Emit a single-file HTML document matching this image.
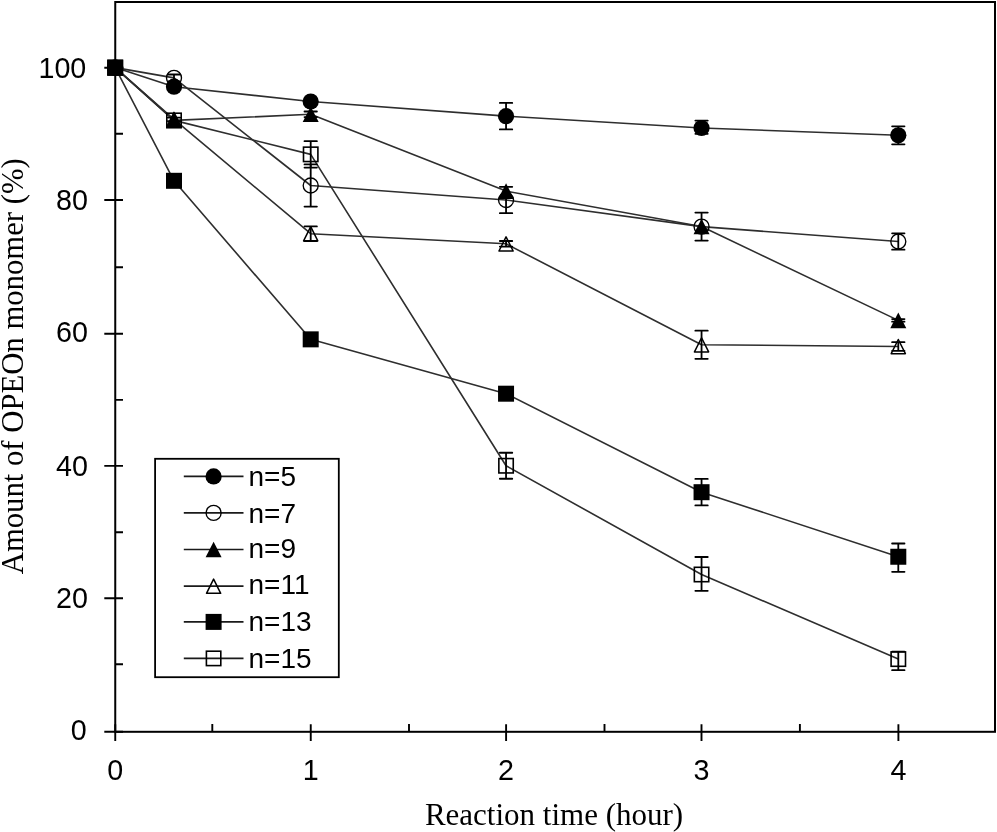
<!DOCTYPE html><html><head><meta charset="utf-8"><style>html,body{margin:0;padding:0;background:#fff;}svg{display:block;}#c{width:997px;height:832px;overflow:hidden;filter:grayscale(1);}</style></head><body>
<div id="c"><svg width="997" height="832" viewBox="0 0 997 832">
<rect width="997" height="832" fill="#fff"/>
<rect x="115.25" y="2.0" width="879.75" height="729.8" fill="none" stroke="#000" stroke-width="2.0"/>
<path d="M104.3,731.8H123 M104.3,598.2H123 M104.3,465.9H123 M104.3,333.7H123 M104.3,200.0H123 M104.3,67.8H123 M115.25,664.20H123 M115.25,532.20H123 M115.25,399.90H123 M115.25,267.30H123 M115.25,133.80H123 M115.25,724.2V741 M310.75,724.2V741 M506.1,724.2V741 M701.5,724.2V741 M898.4,724.2V741 M212.30,724.1V731.8 M409.00,724.1V731.8 M604.50,724.1V731.8 M799.90,724.1V731.8" stroke="#000" stroke-width="1.9" fill="none"/>
<polyline points="115.20,67.60 174.00,86.70 310.70,101.50 506.05,116.15 701.55,128.00 898.30,135.30" fill="none" stroke="#2e2e2e" stroke-width="1.6" stroke-linejoin="round"/>
<polyline points="115.20,67.60 174.00,77.90 310.70,185.50 506.05,200.00 701.55,226.60 898.30,241.50" fill="none" stroke="#2e2e2e" stroke-width="1.6" stroke-linejoin="round"/>
<polyline points="115.20,67.60 174.00,120.40 310.70,114.30 506.05,191.10 701.55,226.50 898.30,320.40" fill="none" stroke="#2e2e2e" stroke-width="1.6" stroke-linejoin="round"/>
<polyline points="115.20,67.60 174.00,119.30 310.70,233.70 506.05,243.80 701.55,344.75 898.30,346.50" fill="none" stroke="#2e2e2e" stroke-width="1.6" stroke-linejoin="round"/>
<polyline points="115.20,67.60 174.00,180.80 310.70,339.35 506.05,393.70 701.55,492.20 898.30,556.75" fill="none" stroke="#2e2e2e" stroke-width="1.6" stroke-linejoin="round"/>
<polyline points="115.20,67.60 174.00,120.40 310.70,154.35 506.05,465.75 701.55,574.50 898.30,659.10" fill="none" stroke="#2e2e2e" stroke-width="1.6" stroke-linejoin="round"/>
<path d="M506.05,102.90V129.40M499.85,102.90H512.25M499.85,129.40H512.25M701.55,120.60V133.80M695.35,120.60H707.75M695.35,133.80H707.75M898.30,126.30V144.30M892.10,126.30H904.50M892.10,144.30H904.50" stroke="#000" stroke-width="1.8" fill="none" stroke-linecap="round"/>
<circle cx="115.20" cy="67.60" r="8.10" fill="#000"/>
<circle cx="174.00" cy="86.70" r="8.10" fill="#000"/>
<circle cx="310.70" cy="101.50" r="8.10" fill="#000"/>
<circle cx="506.05" cy="116.15" r="8.10" fill="#000"/>
<circle cx="701.55" cy="128.00" r="8.10" fill="#000"/>
<circle cx="898.30" cy="135.30" r="8.10" fill="#000"/>
<path d="M174.00,74.50V81.30M167.80,74.50H180.20M167.80,81.30H180.20M310.70,164.40V206.60M304.50,164.40H316.90M304.50,206.60H316.90M506.05,186.80V213.20M499.85,186.80H512.25M499.85,213.20H512.25M701.55,212.60V240.60M695.35,212.60H707.75M695.35,240.60H707.75M898.30,233.30V249.70M892.10,233.30H904.50M892.10,249.70H904.50" stroke="#000" stroke-width="1.8" fill="none" stroke-linecap="round"/>
<circle cx="115.20" cy="67.60" r="7.50" fill="none" stroke="#000" stroke-width="1.35"/>
<circle cx="174.00" cy="77.90" r="7.50" fill="none" stroke="#000" stroke-width="1.35"/>
<circle cx="310.70" cy="185.50" r="7.50" fill="none" stroke="#000" stroke-width="1.35"/>
<circle cx="506.05" cy="200.00" r="7.50" fill="none" stroke="#000" stroke-width="1.35"/>
<circle cx="701.55" cy="226.60" r="7.50" fill="none" stroke="#000" stroke-width="1.35"/>
<circle cx="898.30" cy="241.50" r="7.50" fill="none" stroke="#000" stroke-width="1.35"/>
<path d="M310.70,111.50V117.10M304.50,111.50H316.90M304.50,117.10H316.90M898.30,319.10V321.70M892.10,319.10H904.50M892.10,321.70H904.50" stroke="#000" stroke-width="1.8" fill="none" stroke-linecap="round"/>
<path d="M115.20,59.80 L123.20,75.40 L107.20,75.40Z" fill="#000"/>
<path d="M174.00,112.60 L182.00,128.20 L166.00,128.20Z" fill="#000"/>
<path d="M310.70,106.50 L318.70,122.10 L302.70,122.10Z" fill="#000"/>
<path d="M506.05,183.30 L514.05,198.90 L498.05,198.90Z" fill="#000"/>
<path d="M701.55,218.70 L709.55,234.30 L693.55,234.30Z" fill="#000"/>
<path d="M898.30,312.60 L906.30,328.20 L890.30,328.20Z" fill="#000"/>
<path d="M174.00,117.55V121.05M167.80,117.55H180.20M167.80,121.05H180.20M310.70,226.40V241.00M304.50,226.40H316.90M304.50,241.00H316.90M506.05,241.00V246.60M499.85,241.00H512.25M499.85,246.60H512.25M701.55,330.70V358.80M695.35,330.70H707.75M695.35,358.80H707.75M898.30,342.20V350.80M892.10,342.20H904.50M892.10,350.80H904.50" stroke="#000" stroke-width="1.8" fill="none" stroke-linecap="round"/>
<path d="M115.20,60.60 L122.30,74.80 L108.10,74.80Z" fill="none" stroke="#000" stroke-width="1.5" stroke-linejoin="round"/>
<path d="M174.00,112.30 L181.10,126.50 L166.90,126.50Z" fill="none" stroke="#000" stroke-width="1.5" stroke-linejoin="round"/>
<path d="M310.70,226.70 L317.80,240.90 L303.60,240.90Z" fill="none" stroke="#000" stroke-width="1.5" stroke-linejoin="round"/>
<path d="M506.05,236.80 L513.15,251.00 L498.95,251.00Z" fill="none" stroke="#000" stroke-width="1.5" stroke-linejoin="round"/>
<path d="M701.55,337.75 L708.65,351.95 L694.45,351.95Z" fill="none" stroke="#000" stroke-width="1.5" stroke-linejoin="round"/>
<path d="M898.30,339.50 L905.40,353.70 L891.20,353.70Z" fill="none" stroke="#000" stroke-width="1.5" stroke-linejoin="round"/>
<path d="M701.55,478.95V505.45M695.35,478.95H707.75M695.35,505.45H707.75M898.30,543.50V571.80M892.10,543.50H904.50M892.10,571.80H904.50" stroke="#000" stroke-width="1.8" fill="none" stroke-linecap="round"/>
<rect x="107.20" y="59.60" width="16" height="16" fill="#000"/>
<rect x="166.00" y="172.80" width="16" height="16" fill="#000"/>
<rect x="302.70" y="331.35" width="16" height="16" fill="#000"/>
<rect x="498.05" y="385.70" width="16" height="16" fill="#000"/>
<rect x="693.55" y="484.20" width="16" height="16" fill="#000"/>
<rect x="890.30" y="548.75" width="16" height="16" fill="#000"/>
<path d="M310.70,141.15V167.55M304.50,141.15H316.90M304.50,167.55H316.90M506.05,452.75V478.75M499.85,452.75H512.25M499.85,478.75H512.25M701.55,557.00V590.80M695.35,557.00H707.75M695.35,590.80H707.75M898.30,651.60V670.20M892.10,651.60H904.50M892.10,670.20H904.50" stroke="#000" stroke-width="1.8" fill="none" stroke-linecap="round"/>
<rect x="108.00" y="60.40" width="14.4" height="14.4" fill="none" stroke="#000" stroke-width="1.6"/>
<rect x="166.80" y="113.20" width="14.4" height="14.4" fill="none" stroke="#000" stroke-width="1.6"/>
<rect x="303.50" y="147.15" width="14.4" height="14.4" fill="none" stroke="#000" stroke-width="1.6"/>
<rect x="498.85" y="458.55" width="14.4" height="14.4" fill="none" stroke="#000" stroke-width="1.6"/>
<rect x="694.35" y="567.30" width="14.4" height="14.4" fill="none" stroke="#000" stroke-width="1.6"/>
<rect x="891.10" y="651.90" width="14.4" height="14.4" fill="none" stroke="#000" stroke-width="1.6"/>
<text x="86.3" y="77.71" text-anchor="end" font-family="Liberation Sans, sans-serif" font-size="28.7">100</text>
<text x="88.0" y="209.86" text-anchor="end" font-family="Liberation Sans, sans-serif" font-size="28.7">80</text>
<text x="88.0" y="342.16" text-anchor="end" font-family="Liberation Sans, sans-serif" font-size="28.7">60</text>
<text x="88.0" y="475.86" text-anchor="end" font-family="Liberation Sans, sans-serif" font-size="28.7">40</text>
<text x="88.0" y="607.96" text-anchor="end" font-family="Liberation Sans, sans-serif" font-size="28.7">20</text>
<text x="86.6" y="740.16" text-anchor="end" font-family="Liberation Sans, sans-serif" font-size="28.7">0</text>
<text x="115.25" y="779.76" text-anchor="middle" font-family="Liberation Sans, sans-serif" font-size="28.7">0</text>
<text x="310.75" y="779.76" text-anchor="middle" font-family="Liberation Sans, sans-serif" font-size="28.7">1</text>
<text x="506.1" y="779.76" text-anchor="middle" font-family="Liberation Sans, sans-serif" font-size="28.7">2</text>
<text x="701.5" y="779.76" text-anchor="middle" font-family="Liberation Sans, sans-serif" font-size="28.7">3</text>
<text x="898.4" y="779.76" text-anchor="middle" font-family="Liberation Sans, sans-serif" font-size="28.7">4</text>
<text x="554" y="824.8" text-anchor="middle" font-family="Liberation Serif, serif" font-size="31">Reaction time (hour)</text>
<text transform="translate(23.2,366.3) rotate(-90)" x="0" y="0" text-anchor="middle" font-family="Liberation Serif, serif" font-size="30.7">Amount of OPEOn monomer (%)</text>
<rect x="155.1" y="458.8" width="183.7" height="218.4" fill="#fff" stroke="#000" stroke-width="1.8"/>
<path d="M183.8,476.4H243.5" stroke="#1a1a1a" stroke-width="1.7"/>
<circle cx="213.60" cy="476.40" r="8.10" fill="#000"/>
<text x="248.5" y="485.90" font-family="Liberation Sans, sans-serif" font-size="28">n=5</text>
<path d="M183.8,512.9H243.5" stroke="#1a1a1a" stroke-width="1.7"/>
<circle cx="213.60" cy="512.90" r="7.50" fill="none" stroke="#000" stroke-width="1.35"/>
<text x="248.5" y="522.80" font-family="Liberation Sans, sans-serif" font-size="28">n=7</text>
<path d="M183.8,549.5H243.5" stroke="#1a1a1a" stroke-width="1.7"/>
<path d="M213.60,541.70 L221.60,557.30 L205.60,557.30Z" fill="#000"/>
<text x="248.5" y="558.30" font-family="Liberation Sans, sans-serif" font-size="28">n=9</text>
<path d="M183.8,586.1H243.5" stroke="#1a1a1a" stroke-width="1.7"/>
<path d="M213.60,579.10 L220.70,593.30 L206.50,593.30Z" fill="none" stroke="#000" stroke-width="1.5" stroke-linejoin="round"/>
<text x="248.5" y="594.30" font-family="Liberation Sans, sans-serif" font-size="28">n=11</text>
<path d="M183.8,621.9H243.5" stroke="#1a1a1a" stroke-width="1.7"/>
<rect x="205.60" y="613.90" width="16" height="16" fill="#000"/>
<text x="248.5" y="631.10" font-family="Liberation Sans, sans-serif" font-size="28">n=13</text>
<path d="M183.8,658.4H243.5" stroke="#1a1a1a" stroke-width="1.7"/>
<rect x="206.40" y="651.20" width="14.4" height="14.4" fill="none" stroke="#000" stroke-width="1.6"/>
<text x="248.5" y="667.90" font-family="Liberation Sans, sans-serif" font-size="28">n=15</text>
</svg></div></body></html>
